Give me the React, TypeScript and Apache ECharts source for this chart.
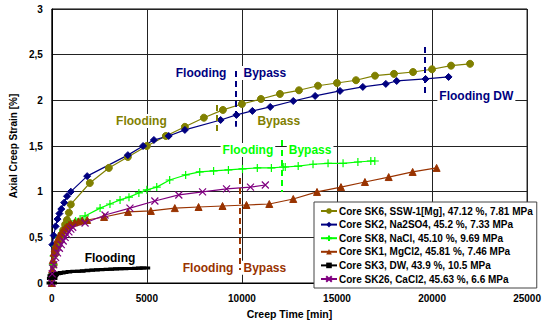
import React, { useEffect, useRef } from "react";
import * as echarts from "echarts";

// Creep time [min] and axial creep strain [%] per core
const sk6Time = [0, 100, 200, 300, 400, 500, 600, 700, 800, 900, 1000, 2000, 3000, 4000, 5000, 6000, 7000, 8000, 9000, 10000, 11000, 12000, 13000, 14000, 15000, 16000, 17000, 18000, 19000, 20000, 21000, 22000];
const sk6Strain = [0, 0.2, 0.32, 0.4, 0.46, 0.53, 0.58, 0.64, 0.69, 0.77, 0.86, 1.095, 1.26, 1.38, 1.5, 1.61, 1.71, 1.81, 1.895, 1.96, 2.015, 2.07, 2.11, 2.16, 2.19, 2.22, 2.27, 2.29, 2.31, 2.34, 2.38, 2.4];

const sk2Time = [0, 30, 100, 200, 300, 400, 500, 650, 800, 1000, 1860, 4000, 4800, 5370, 6150, 7000, 8880, 9710, 10550, 11490, 12700, 13850, 15160, 16360, 17570, 18140, 19660, 20870];
const sk2Strain = [0, 0.42, 0.52, 0.62, 0.7, 0.76, 0.81, 0.88, 0.95, 1.0, 1.17, 1.4, 1.5, 1.566, 1.61, 1.676, 1.785, 1.84, 1.884, 1.928, 1.993, 2.048, 2.103, 2.147, 2.18, 2.212, 2.234, 2.256];

const sk8Time = [0, 50, 100, 200, 400, 600, 800, 1000, 1250, 1490, 1750, 2540, 3060, 3590, 4060, 4580, 5000, 5520, 6200, 7040, 7780, 8510, 9290, 10030, 10810, 11550, 12170, 12280, 12960, 13740, 14530, 15320, 16100, 16780, 16990];
const sk8Strain = [0, 0.2, 0.3, 0.4, 0.5, 0.57, 0.62, 0.65, 0.68, 0.7, 0.734, 0.82, 0.865, 0.91, 0.94, 0.986, 1.02, 1.05, 1.128, 1.183, 1.216, 1.227, 1.238, 1.249, 1.26, 1.26, 1.27, 1.27, 1.28, 1.3, 1.31, 1.31, 1.325, 1.336, 1.336];

const sk1Time = [0, 20, 50, 100, 150, 200, 300, 400, 500, 600, 700, 800, 900, 1000, 1200, 1400, 1600, 1860, 2750, 4010, 5210, 6470, 7720, 8980, 10240, 11440, 12700, 13950, 15210, 16470, 17720, 18980, 20240];
const sk1Strain = [0, 0.15, 0.25, 0.33, 0.38, 0.42, 0.48, 0.52, 0.55, 0.58, 0.6, 0.62, 0.635, 0.65, 0.665, 0.675, 0.685, 0.69, 0.723, 0.778, 0.789, 0.82, 0.832, 0.843, 0.854, 0.865, 0.92, 0.997, 1.05, 1.106, 1.16, 1.216, 1.26];

const sk3Time = [0, 20, 50, 100, 200, 300, 450, 600, 800, 1000, 1250, 1500, 1750, 2000, 2250, 2500, 2750, 3000, 3250, 3500, 3750, 4000, 4250, 4500, 4700, 4900];
const sk3Strain = [0, 0.05, 0.08, 0.09, 0.1, 0.105, 0.11, 0.115, 0.12, 0.125, 0.128, 0.13, 0.135, 0.14, 0.142, 0.145, 0.148, 0.15, 0.152, 0.155, 0.157, 0.16, 0.16, 0.162, 0.163, 0.165];

const sk26Time = [0, 20, 50, 100, 200, 300, 400, 500, 600, 700, 800, 900, 1000, 1100, 1750, 2800, 4110, 5420, 6680, 7930, 9190, 10450, 11230];
const sk26Strain = [0, 0.1, 0.16, 0.2, 0.28, 0.33, 0.38, 0.42, 0.46, 0.5, 0.53, 0.56, 0.59, 0.61, 0.657, 0.745, 0.82, 0.898, 0.964, 0.997, 1.03, 1.05, 1.073];

const seriesNames = [
  "Core SK6, SSW-1[Mg], 47.12 %, 7.81 MPa",
  "Core SK2, Na2SO4, 45.2 %, 7.33 MPa",
  "Core SK8, NaCl, 45.10 %, 9.69 MPa",
  "Core SK1, MgCl2, 45.81 %, 7.46 MPa",
  "Core SK3, DW, 43.9 %, 10.5 MPa",
  "Core SK26, CaCl2, 45.63 %, 6.6 MPa",
];

const xTicks = [0, 5000, 10000, 15000, 20000, 25000];

const OLIVE = "#808000";
const NAVY = "#000080";
const GREEN = "#00ff00";
const BROWN = "#993300";
const BLACK = "#000000";
const PURPLE = "#800080";

const FONT = "Liberation Sans, Arial, sans-serif";

const zip = (t: number[], s: number[]) => t.map((v, i) => [v, s[i]]);

const PLUS = "path://M0,5L10,5M5,0L5,10";
const CROSS = "path://M0,0L10,10M10,0L0,10";

// vertical dashed markers where the brine switched from flooding to bypass
function dashed(color: string, segs: number[][][]) {
  return {
    silent: true,
    symbol: ["none", "none"],
    label: { show: false },
    lineStyle: { type: [6, 4], width: 2, color },
    data: segs.map((s) => [{ coord: s[0] }, { coord: s[1] }]),
  };
}

// "Flooding" / "Bypass" text notes placed in data coordinates
function notes(color: string, items: [string, number, number][]) {
  return {
    silent: true,
    symbol: "rect",
    symbolSize: 1,
    itemStyle: { color: "rgba(0,0,0,0)" },
    label: {
      show: true,
      position: "inside",
      color,
      fontFamily: FONT,
      fontWeight: "bold",
      fontSize: 12,
      backgroundColor: "#ffffff",
      padding: [1, 2],
      formatter: (p: any) => p.name,
    },
    data: items.map(([name, x, y]) => ({ name, coord: [x, y] })),
  };
}

export default function App() {
  const ref = useRef<HTMLDivElement>(null);

  useEffect(() => {
    if (!ref.current) return;
    const chart = echarts.init(ref.current, undefined, { renderer: "svg" });

    const base = (name: string, color: string) => ({
      name,
      type: "line",
      color,
      lineStyle: { color, width: 1.2 },
      itemStyle: { color, borderColor: color },
      z: 3,
    });

    chart.setOption({
      animation: false,
      textStyle: { fontFamily: FONT },
      grid: {
        left: 49.5,
        right: 16,
        top: 9,
        bottom: 42,
        show: true,
        borderColor: "#000",
        borderWidth: 1,
        backgroundColor: "#fff",
      },
      xAxis: {
        type: "value",
        min: 0,
        max: 25000,
        interval: 5000,
        name: "Creep Time [min]",
        nameLocation: "middle",
        nameGap: 25,
        nameTextStyle: { fontFamily: FONT, fontWeight: "bold", fontSize: 10.5, color: "#000" },
        axisLine: { show: true, lineStyle: { color: "#000", width: 1 } },
        axisTick: { show: false },
        axisLabel: {
          color: "#000",
          fontFamily: FONT,
          fontWeight: "bold",
          fontSize: 10,
          margin: 10,
          formatter: (v: number) => (xTicks.includes(v) ? String(v) : ""),
        },
        splitLine: { show: true, lineStyle: { color: "#222", width: 1 } },
      },
      yAxis: {
        type: "value",
        min: 0,
        max: 3,
        interval: 0.5,
        name: "Axial Creep Strain [%]",
        nameLocation: "middle",
        nameGap: 32,
        nameTextStyle: { fontFamily: FONT, fontWeight: "bold", fontSize: 10, color: "#000" },
        axisLine: { show: true, lineStyle: { color: "#000", width: 1 } },
        axisTick: { show: false },
        axisLabel: {
          color: "#000",
          fontFamily: FONT,
          fontWeight: "bold",
          fontSize: 10,
          margin: 9,
          formatter: (v: number) => String(v).replace(".", ","),
        },
        splitLine: { show: true, lineStyle: { color: "#222", width: 1 } },
      },
      legend: {
        data: seriesNames,
        orient: "vertical",
        left: 314,
        top: 202,
        itemWidth: 16,
        itemHeight: 7,
        itemGap: 3.6,
        padding: [4, 4, 4, 6],
        backgroundColor: "#fff",
        borderColor: "#444",
        borderWidth: 1,
        textStyle: { fontFamily: FONT, fontWeight: "bold", fontSize: 10, color: "#000", padding: [0, 0, 0, -3] },
      },
      series: [
        {
          ...base(seriesNames[0], OLIVE),
          data: zip(sk6Time, sk6Strain),
          symbol: "circle",
          symbolSize: 7,
          markLine: dashed(OLIVE, [[[8665, 1.95], [8665, 1.62]]]),
          markPoint: notes(OLIVE, [["Flooding", 4712, 1.774], ["Bypass", 11938, 1.774]]),
        },
        {
          ...base(seriesNames[1], NAVY),
          data: zip(sk2Time, sk2Strain),
          symbol: "diamond",
          symbolSize: 7,
          markLine: dashed(NAVY, [
            [[9690, 2.32], [9690, 1.71]],
            [[19610, 2.585], [19610, 2.07]],
          ]),
          markPoint: notes(NAVY, [
            ["Flooding", 7854, 2.3],
            ["Bypass", 11205, 2.3],
            ["Flooding DW", 22331, 2.05],
          ]),
        },
        {
          ...base(seriesNames[2], GREEN),
          data: zip(sk8Time, sk8Strain),
          symbol: PLUS,
          symbolSize: 8,
          itemStyle: { color: GREEN, borderColor: GREEN, borderWidth: 1.2 },
          markLine: dashed(GREEN, [[[12120, 1.566], [12120, 0.997]]]),
          markPoint: notes(GREEN, [["Flooding", 10315, 1.457], ["Bypass", 13587, 1.457]]),
        },
        {
          ...base(seriesNames[3], BROWN),
          data: zip(sk1Time, sk1Strain),
          symbol: "triangle",
          symbolSize: 7,
          markLine: dashed(BROWN, [[[9870, 1.15], [9870, 0.142]]]),
          markPoint: notes(BROWN, [["Flooding", 8220, 0.168], ["Bypass", 11205, 0.168]]),
        },
        {
          ...base(seriesNames[4], BLACK),
          data: zip(sk3Time, sk3Strain),
          symbol: "rect",
          symbolSize: [7, 2],
          lineStyle: { color: BLACK, width: 1.2 },
          markPoint: notes(BLACK, [["Flooding", 3063, 0.274]]),
        },
        {
          ...base(seriesNames[5], PURPLE),
          data: zip(sk26Time, sk26Strain),
          symbol: CROSS,
          symbolSize: 7,
          itemStyle: { color: PURPLE, borderColor: PURPLE, borderWidth: 1.2 },
        },
      ],
    });

    return () => chart.dispose();
  }, []);

  return (
    <div
      ref={ref}
      style={{ position: "fixed", left: 0, top: 0, width: 544, height: 325, background: "#fff" }}
    />
  );
}
